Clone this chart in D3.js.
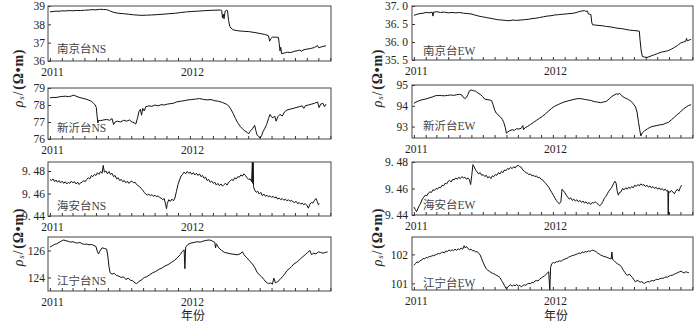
<!DOCTYPE html>
<html><head><meta charset="utf-8">
<script src="https://cdn.jsdelivr.net/npm/d3@7/dist/d3.min.js"></script>
<style>
body{margin:0;background:#fff}
svg{display:block}
</style>
</head><body>
<svg id="chart" width="700" height="322"></svg>
<script>
// Apparent resistivity, daily series: [days since 2011-01-01, value]
const nanjingNS = [[0,38.68],[8,38.70],[16,38.72],[24,38.71],[32,38.74],[40,38.73],[50,38.75],[60,38.74],[70,38.76],[80,38.75],[90,38.77],[100,38.78],[110,38.80],[120,38.79],[130,38.82],[140,38.81],[148,38.80],[155,38.75],[162,38.68],[170,38.64],[180,38.60],[192,38.58],[205,38.55],[218,38.52],[230,38.50],[240,38.49],[252,38.50],[265,38.51],[280,38.53],[295,38.55],[310,38.58],[325,38.60],[340,38.64],[356,38.68],[370,38.70],[385,38.72],[400,38.74],[415,38.76],[430,38.77],[445,38.78],[448,38.76],[450,38.35],[452,38.55],[454,38.30],[457,38.72],[460,38.76],[463,38.75],[466,38.20],[469,37.90],[472,37.80],[478,37.70],[490,37.65],[505,37.62],[520,37.60],[535,37.55],[548,37.50],[560,37.45],[570,37.38],[573,37.08],[576,37.22],[580,37.30],[590,37.30],[596,37.28],[598,36.95],[600,36.55],[602,36.75],[604,36.40],[608,36.42],[614,36.45],[620,36.48],[628,36.46],[636,36.52],[645,36.56],[652,36.60],[655,36.52],[660,36.60],[670,36.65],[680,36.68],[690,36.74],[698,36.84],[701,36.72],[704,36.74],[712,36.80],[720,36.83]];

const xinyiNS = [[0,78.42],[8,78.45],[16,78.44],[24,78.48],[32,78.50],[40,78.52],[48,78.49],[56,78.53],[62,78.58],[68,78.52],[76,78.45],[84,78.40],[92,78.36],[100,78.30],[108,78.22],[114,78.10],[118,78.00],[121,77.85],[123,77.35],[125,76.95],[127,77.10],[132,77.08],[140,77.12],[148,77.15],[156,77.10],[162,77.20],[166,76.85],[170,77.00],[176,77.05],[184,77.00],[192,77.10],[200,77.05],[208,77.12],[214,77.00],[220,76.95],[224,76.88],[228,77.20],[232,77.60],[236,77.75],[239,77.40],[242,77.80],[246,77.65],[250,77.90],[258,77.95],[266,77.92],[274,78.00],[282,77.95],[290,78.02],[298,78.00],[306,78.05],[314,78.08],[322,78.10],[330,78.18],[340,78.22],[350,78.25],[360,78.30],[370,78.32],[380,78.35],[390,78.38],[400,78.33],[410,78.30],[420,78.32],[430,78.25],[440,78.22],[450,78.15],[460,78.05],[466,77.95],[472,77.75],[478,77.50],[484,77.20],[490,76.95],[496,76.75],[502,76.60],[508,76.48],[514,76.40],[518,76.30],[522,76.45],[528,76.60],[534,76.80],[537,76.50],[540,76.25],[544,76.15],[548,76.05],[552,76.20],[556,76.45],[560,76.60],[565,76.85],[570,77.20],[574,77.45],[578,77.30],[582,77.25],[586,77.35],[590,77.05],[594,77.30],[600,77.45],[606,77.35],[612,77.60],[618,77.70],[626,77.75],[634,77.80],[642,77.85],[650,77.90],[658,77.95],[662,77.80],[666,77.95],[674,78.00],[682,78.05],[690,78.10],[698,78.18],[702,77.85],[706,78.05],[712,78.10],[716,77.90],[720,78.05]];

const haianNS = [[0,9.4725],[4,9.4715],[8,9.4730],[12,9.4705],[16,9.4720],[20,9.4700],[24,9.4715],[28,9.4695],[32,9.4710],[36,9.4690],[40,9.4705],[44,9.4685],[48,9.4700],[52,9.4690],[56,9.4710],[60,9.4695],[64,9.4705],[68,9.4685],[72,9.4700],[76,9.4680],[80,9.4695],[84,9.4700],[88,9.4715],[92,9.4705],[96,9.4725],[100,9.4740],[104,9.4730],[108,9.4760],[112,9.4750],[116,9.4770],[120,9.4760],[124,9.4785],[128,9.4770],[132,9.4795],[136,9.4780],[139,9.4850],[142,9.4790],[146,9.4800],[150,9.4775],[154,9.4795],[158,9.4770],[162,9.4780],[166,9.4750],[170,9.4760],[174,9.4730],[178,9.4740],[182,9.4715],[186,9.4725],[190,9.4705],[194,9.4715],[198,9.4695],[202,9.4710],[206,9.4690],[210,9.4705],[214,9.4710],[218,9.4695],[222,9.4700],[226,9.4680],[230,9.4670],[234,9.4660],[238,9.4645],[242,9.4630],[246,9.4610],[250,9.4595],[254,9.4585],[258,9.4595],[262,9.4580],[266,9.4590],[270,9.4575],[274,9.4585],[278,9.4570],[282,9.4580],[286,9.4565],[290,9.4560],[294,9.4545],[298,9.4555],[302,9.4500],[304,9.4465],[306,9.4510],[310,9.4545],[314,9.4530],[318,9.4550],[322,9.4535],[326,9.4560],[330,9.4620],[334,9.4680],[338,9.4720],[342,9.4755],[346,9.4770],[350,9.4790],[354,9.4775],[358,9.4795],[362,9.4780],[366,9.4790],[370,9.4770],[374,9.4785],[378,9.4765],[382,9.4780],[386,9.4760],[390,9.4775],[394,9.4750],[398,9.4760],[402,9.4735],[406,9.4745],[410,9.4715],[414,9.4725],[418,9.4700],[422,9.4710],[426,9.4690],[430,9.4700],[434,9.4675],[438,9.4690],[442,9.4670],[446,9.4685],[450,9.4665],[454,9.4680],[458,9.4690],[462,9.4675],[466,9.4700],[470,9.4710],[474,9.4725],[478,9.4715],[482,9.4740],[486,9.4730],[490,9.4750],[494,9.4745],[498,9.4765],[502,9.4755],[506,9.4775],[510,9.4760],[514,9.4740],[518,9.4725],[522,9.4730],[526,9.4705],[528,9.4900],[529,9.4690],[530,9.4900],[531,9.4660],[534,9.4630],[538,9.4610],[542,9.4620],[546,9.4595],[550,9.4610],[554,9.4580],[558,9.4595],[562,9.4575],[566,9.4585],[570,9.4570],[574,9.4580],[578,9.4565],[582,9.4575],[586,9.4560],[590,9.4570],[594,9.4550],[598,9.4560],[602,9.4545],[606,9.4555],[610,9.4540],[614,9.4550],[618,9.4535],[622,9.4545],[626,9.4530],[630,9.4540],[634,9.4525],[638,9.4520],[642,9.4530],[646,9.4510],[650,9.4520],[654,9.4505],[658,9.4515],[662,9.4500],[666,9.4510],[670,9.4495],[674,9.4470],[678,9.4505],[682,9.4520],[686,9.4515],[690,9.4540],[694,9.4555],[697,9.4530],[700,9.4500],[703,9.4510]];

const jiangningNS = [[0,126.25],[6,126.35],[12,126.45],[18,126.50],[24,126.60],[30,126.70],[36,126.78],[42,126.72],[48,126.68],[54,126.62],[60,126.65],[66,126.58],[72,126.55],[78,126.60],[84,126.50],[90,126.45],[96,126.48],[102,126.42],[108,126.45],[114,126.38],[120,126.30],[124,125.90],[127,125.75],[130,125.95],[136,126.20],[142,126.15],[148,126.10],[151,125.60],[154,124.80],[157,124.35],[162,124.25],[168,124.30],[174,124.15],[180,124.10],[186,124.00],[192,124.05],[198,123.85],[204,123.95],[210,123.80],[216,123.75],[222,123.60],[226,123.55],[232,123.70],[240,123.85],[246,124.00],[252,124.05],[260,124.20],[268,124.35],[276,124.45],[284,124.60],[292,124.70],[300,124.85],[308,124.95],[316,125.10],[324,125.25],[332,125.45],[340,125.70],[346,125.95],[350,126.05],[352,124.65],[354,126.25],[360,126.45],[368,126.55],[376,126.60],[384,126.65],[392,126.62],[400,126.70],[408,126.75],[416,126.78],[424,126.70],[430,126.60],[432,126.20],[434,126.50],[440,126.20],[448,126.00],[456,125.85],[464,125.80],[472,125.75],[480,125.72],[488,125.68],[496,125.75],[502,125.90],[506,125.70],[512,125.50],[520,125.25],[528,125.00],[534,124.75],[540,124.40],[546,124.20],[552,124.05],[558,123.85],[564,123.65],[570,123.55],[576,123.60],[580,123.50],[584,123.95],[588,123.60],[594,123.70],[600,123.85],[606,124.05],[612,124.25],[618,124.50],[624,124.65],[630,124.80],[636,125.00],[642,125.10],[648,125.25],[654,125.40],[660,125.55],[666,125.70],[672,125.85],[678,126.00],[682,125.70],[688,125.80],[694,125.75],[700,125.90],[706,125.85],[712,125.80],[718,125.85],[724,125.90]];

const nanjingEW = [[0,36.74],[8,36.77],[16,36.79],[24,36.80],[32,36.82],[40,36.81],[48,36.83],[50,36.72],[52,36.83],[60,36.84],[70,36.82],[80,36.83],[90,36.81],[100,36.82],[110,36.81],[120,36.82],[130,36.80],[140,36.79],[150,36.78],[160,36.75],[170,36.72],[180,36.70],[190,36.68],[200,36.66],[210,36.64],[220,36.62],[230,36.61],[240,36.60],[250,36.59],[260,36.61],[270,36.60],[280,36.61],[290,36.62],[300,36.63],[310,36.65],[320,36.66],[330,36.68],[340,36.70],[350,36.72],[360,36.73],[370,36.75],[380,36.76],[390,36.77],[400,36.78],[410,36.79],[420,36.80],[430,36.83],[440,36.86],[448,36.87],[452,36.85],[456,36.86],[458,36.78],[462,36.77],[465,36.76],[467,36.55],[469,36.48],[476,36.47],[486,36.46],[496,36.45],[506,36.43],[516,36.42],[526,36.40],[536,36.38],[546,36.37],[556,36.35],[566,36.33],[576,36.32],[586,36.31],[592,36.30],[594,36.05],[597,35.75],[600,35.60],[606,35.58],[612,35.57],[620,35.60],[630,35.64],[640,35.68],[650,35.72],[660,35.74],[668,35.76],[676,35.80],[684,35.85],[692,35.90],[700,35.97],[708,36.00],[714,36.02],[716,36.10],[718,36.03],[724,36.06],[728,36.07]];

const xinyiEW = [[0,94.12],[8,94.20],[16,94.26],[24,94.30],[32,94.33],[40,94.38],[48,94.42],[56,94.48],[64,94.50],[72,94.49],[80,94.48],[88,94.50],[96,94.52],[104,94.50],[112,94.53],[120,94.55],[126,94.52],[130,94.40],[134,94.35],[138,94.40],[142,94.55],[146,94.72],[150,94.76],[156,94.73],[162,94.70],[168,94.62],[174,94.55],[180,94.45],[186,94.32],[192,94.30],[198,94.28],[204,94.25],[208,94.05],[212,93.80],[216,93.65],[220,93.60],[224,93.50],[228,93.45],[232,93.35],[236,93.20],[240,92.95],[243,92.68],[247,92.75],[252,92.80],[258,92.85],[264,92.82],[270,92.90],[276,92.88],[282,92.92],[286,93.05],[288,92.85],[292,92.95],[298,93.00],[306,93.10],[314,93.20],[322,93.30],[330,93.40],[338,93.50],[346,93.62],[354,93.75],[362,93.88],[370,93.98],[378,94.05],[386,94.12],[394,94.18],[402,94.22],[410,94.26],[418,94.30],[426,94.33],[434,94.35],[442,94.33],[450,94.30],[458,94.28],[466,94.25],[474,94.20],[482,94.18],[490,94.15],[498,94.18],[506,94.22],[514,94.35],[520,94.45],[526,94.52],[532,94.58],[536,94.55],[540,94.60],[546,94.48],[552,94.40],[558,94.35],[564,94.30],[570,94.22],[576,94.10],[582,93.95],[586,93.70],[590,93.20],[593,92.85],[596,92.55],[600,92.70],[606,92.80],[614,92.90],[622,92.98],[630,93.02],[638,93.05],[646,93.08],[654,93.10],[660,93.15],[668,93.20],[676,93.32],[684,93.45],[692,93.58],[700,93.70],[708,93.85],[716,93.95],[722,94.02],[728,94.05]];

const haianEW = [[0,9.4460],[4,9.4440],[7,9.4425],[10,9.4445],[14,9.4470],[18,9.4490],[22,9.4520],[26,9.4535],[30,9.4550],[34,9.4545],[38,9.4565],[42,9.4575],[46,9.4570],[50,9.4590],[54,9.4585],[58,9.4600],[62,9.4595],[66,9.4610],[70,9.4605],[74,9.4625],[78,9.4620],[82,9.4640],[86,9.4635],[90,9.4655],[94,9.4660],[98,9.4650],[102,9.4670],[106,9.4665],[110,9.4680],[114,9.4670],[118,9.4685],[122,9.4675],[126,9.4690],[130,9.4680],[134,9.4685],[138,9.4670],[142,9.4680],[146,9.4665],[149,9.4630],[152,9.4700],[155,9.4780],[158,9.4765],[162,9.4740],[166,9.4725],[170,9.4710],[174,9.4720],[178,9.4700],[182,9.4705],[186,9.4690],[190,9.4700],[194,9.4680],[198,9.4690],[202,9.4675],[206,9.4695],[210,9.4690],[214,9.4705],[218,9.4700],[222,9.4720],[226,9.4710],[230,9.4730],[234,9.4720],[238,9.4740],[242,9.4735],[246,9.4750],[250,9.4745],[254,9.4760],[258,9.4750],[262,9.4765],[266,9.4755],[270,9.4770],[274,9.4775],[278,9.4765],[282,9.4760],[286,9.4740],[290,9.4730],[294,9.4720],[298,9.4715],[302,9.4705],[306,9.4710],[310,9.4695],[314,9.4700],[318,9.4690],[322,9.4695],[326,9.4680],[330,9.4685],[334,9.4670],[338,9.4665],[342,9.4650],[346,9.4640],[350,9.4625],[354,9.4610],[358,9.4590],[362,9.4570],[366,9.4550],[370,9.4530],[374,9.4510],[378,9.4495],[382,9.4485],[386,9.4500],[389,9.4595],[392,9.4585],[396,9.4570],[400,9.4550],[404,9.4535],[408,9.4520],[412,9.4530],[416,9.4510],[420,9.4520],[424,9.4505],[428,9.4515],[432,9.4500],[436,9.4510],[440,9.4495],[444,9.4505],[448,9.4490],[452,9.4500],[456,9.4485],[460,9.4495],[464,9.4480],[468,9.4495],[472,9.4490],[476,9.4500],[480,9.4490],[484,9.4480],[488,9.4470],[492,9.4480],[496,9.4500],[500,9.4525],[504,9.4540],[508,9.4560],[512,9.4580],[516,9.4595],[520,9.4610],[524,9.4635],[528,9.4655],[531,9.4640],[534,9.4580],[537,9.4550],[540,9.4570],[544,9.4575],[548,9.4600],[552,9.4590],[556,9.4605],[560,9.4595],[564,9.4610],[568,9.4600],[572,9.4615],[576,9.4605],[580,9.4625],[584,9.4615],[588,9.4630],[592,9.4620],[596,9.4635],[600,9.4625],[604,9.4630],[608,9.4615],[612,9.4625],[616,9.4610],[620,9.4620],[624,9.4605],[628,9.4615],[632,9.4600],[636,9.4610],[640,9.4595],[644,9.4605],[648,9.4590],[652,9.4600],[656,9.4585],[660,9.4595],[664,9.4580],[667,9.4585],[668,9.4380],[669,9.4580],[672,9.4570],[676,9.4585],[680,9.4575],[684,9.4560],[688,9.4580],[692,9.4595],[696,9.4580],[700,9.4610],[703,9.4625]];

const jiangningEW = [[0,101.62],[4,101.68],[8,101.74],[12,101.72],[16,101.78],[20,101.80],[24,101.86],[28,101.84],[32,101.90],[36,101.88],[40,101.93],[44,101.92],[48,101.96],[52,101.95],[56,101.98],[60,102.00],[64,102.03],[68,102.02],[72,102.06],[76,102.08],[80,102.05],[84,102.12],[88,102.10],[92,102.15],[96,102.12],[100,102.16],[104,102.13],[108,102.18],[112,102.14],[116,102.19],[120,102.16],[124,102.22],[128,102.18],[132,102.30],[135,102.22],[138,102.27],[142,102.20],[146,102.16],[150,102.18],[154,102.12],[158,102.14],[162,102.08],[166,102.10],[170,102.04],[174,101.98],[178,101.85],[182,101.72],[186,101.60],[190,101.50],[194,101.45],[198,101.42],[202,101.38],[206,101.35],[210,101.33],[214,101.30],[218,101.27],[222,101.24],[226,101.20],[230,101.10],[234,101.02],[238,100.92],[242,100.82],[246,100.86],[250,100.92],[254,100.95],[258,100.90],[262,100.94],[266,100.92],[270,100.96],[274,100.90],[278,100.93],[282,100.88],[286,100.92],[290,100.95],[294,100.93],[298,100.98],[302,101.00],[306,100.98],[310,101.04],[314,101.02],[318,101.08],[322,101.10],[326,101.08],[330,101.14],[334,101.18],[338,101.22],[342,101.24],[346,101.30],[350,101.35],[354,101.40],[357,100.75],[359,101.55],[362,101.68],[366,101.72],[370,101.70],[374,101.75],[378,101.74],[382,101.78],[386,101.76],[390,101.80],[394,101.82],[398,101.85],[402,101.86],[406,101.90],[410,101.92],[414,101.95],[418,101.96],[422,101.98],[426,102.00],[430,102.02],[434,102.05],[438,102.03],[442,102.08],[446,102.06],[450,102.10],[454,102.08],[458,102.12],[462,102.10],[466,102.13],[470,102.15],[474,102.12],[478,102.10],[482,102.05],[486,102.02],[490,101.98],[494,101.96],[498,101.93],[502,101.92],[506,101.90],[510,101.88],[514,101.86],[518,101.84],[520,102.08],[522,101.82],[526,101.78],[530,101.72],[534,101.68],[538,101.65],[542,101.62],[546,101.55],[550,101.45],[554,101.38],[558,101.30],[562,101.28],[566,101.32],[570,101.25],[574,101.20],[578,101.12],[582,101.05],[586,101.10],[590,101.08],[594,101.04],[598,101.06],[602,101.02],[606,101.00],[610,101.04],[614,101.06],[618,101.05],[622,101.08],[626,101.10],[630,101.08],[634,101.12],[638,101.14],[642,101.13],[646,101.16],[650,101.18],[654,101.17],[658,101.20],[662,101.22],[666,101.21],[670,101.25],[674,101.27],[678,101.28],[682,101.30],[686,101.33],[690,101.35],[694,101.38],[698,101.40],[702,101.42],[706,101.38],[710,101.36],[714,101.40],[718,101.38],[722,101.37]];

const stations = ["南京台", "新沂台", "海安台", "江宁台"];
const nsSeries = [nanjingNS, xinyiNS, haianNS, jiangningNS];
const ewSeries = [nanjingEW, xinyiEW, haianEW, jiangningEW];
const nsDomains = [[36, 39], [76, 79], [9.44, 9.488], [123, 127]];
const ewDomains = [[35.5, 37.0], [92.45, 95], [9.44, 9.48], [100.77, 102.6]];
const nsTicks = [[36, 37, 38, 39], [76, 77, 78, 79], [9.44, 9.46, 9.48], [124, 126]];
const ewTicks = [[35.5, 36.0, 36.5, 37.0], [93, 94, 95], [9.44, 9.46, 9.48], [101, 102]];
const nsDecimals = [0, 0, 2, 0];
const ewDecimals = [1, 0, 2, 0];
const yearTicks = ["2011-01-01", "2012-01-01"];
const timeExtent = ["2010-12-27", "2013-01-03"];
const xTitle = "年份";

const FONT = '"Liberation Serif", "Times New Roman", "Noto Sans CJK SC", serif';
const parse = d3.utcParse("%Y-%m-%d");
const origin = parse("2011-01-01");
const toDate = d => d3.utcDay.offset(origin, d);

const svg = d3.select("#chart").style("font-family", FONT);
svg.append("rect").attr("width", 700).attr("height", 322).attr("fill", "#fff");

const columns = [
  {comp: "NS", series: nsSeries, domains: nsDomains, ticks: nsTicks, dec: nsDecimals,
   x0: 48, x1: 331, rows: [[6, 61], [88, 139], [162, 216], [237, 291]],
   labelX: 9, labelDy: [-8, -7, -6, -6], pad: 3, titleX: 18, titleX2: 193},
  {comp: "EW", series: ewSeries, domains: ewDomains, ticks: ewTicks, dec: ewDecimals,
   x0: 412, x1: 693, rows: [[6, 60], [85, 138], [162, 215], [237, 290]],
   labelX: 11, labelDy: [-5, -8, -6, -3], pad: 4, titleX: 377, titleX2: 556}
];

const defs = svg.append("defs");

const styleAxisText = a => a.attr("font-family", FONT).attr("font-size", 11.5)
  .selectAll("text").attr("fill", "#222");

columns.forEach((col, ci) => {
  const x = d3.scaleUtc().domain(timeExtent.map(parse)).range([col.x0, col.x1]);
  col.series.forEach((data, ri) => {
    const [top, bottom] = col.rows[ri];
    const y = d3.scaleLinear().domain(col.domains[ri]).range([bottom, top]);
    const g = svg.append("g");
    const clipId = `clip-${ci}-${ri}`;
    defs.append("clipPath").attr("id", clipId).append("rect")
      .attr("x", col.x0).attr("y", top).attr("width", col.x1 - col.x0).attr("height", bottom - top);

    // monthly minor ticks, pointing inward
    const minor = d3.axisBottom(x).ticks(d3.utcMonth.every(1)).tickSizeInner(-3).tickSizeOuter(0).tickFormat("");
    g.append("g").attr("transform", `translate(0,${bottom})`).call(minor)
      .call(a => a.select(".domain").remove())
      .call(a => a.selectAll("line").attr("stroke", "#333"));

    // year labels
    const years = d3.axisBottom(x).tickValues(yearTicks.map(parse)).tickSize(0).tickPadding(7)
      .tickFormat(d3.utcFormat("%Y"));
    g.append("g").attr("transform", `translate(2,${bottom})`).call(years)
      .call(a => a.select(".domain").remove())
      .call(styleAxisText);

    // value axis
    const fmt = v => d3.format(`.${col.dec[ri]}f`)(v).replace(".", ". ");
    const yAxis = d3.axisLeft(y).tickValues(col.ticks[ri]).tickSizeInner(-3).tickSizeOuter(0)
      .tickPadding(col.pad).tickFormat(fmt);
    g.append("g").attr("transform", `translate(${col.x0},0)`).call(yAxis)
      .call(a => a.select(".domain").remove())
      .call(a => a.selectAll("line").attr("stroke", "#333"))
      .call(styleAxisText);

    // series line
    const line = d3.line().x(d => x(toDate(d[0]))).y(d => y(d[1]));
    g.append("path").datum(data).attr("clip-path", `url(#${clipId})`)
      .attr("d", line).attr("fill", "none").attr("stroke", "#111")
      .attr("stroke-width", 1).attr("stroke-linejoin", "round");

    // frame
    g.append("rect").attr("x", col.x0).attr("y", top)
      .attr("width", col.x1 - col.x0).attr("height", bottom - top)
      .attr("fill", "none").attr("stroke", "#444").attr("stroke-width", 1);

    // station label
    g.append("text").attr("x", col.x0 + col.labelX).attr("y", bottom + col.labelDy[ri])
      .attr("font-size", 11.5).attr("fill", "#444")
      .text(stations[ri] + col.comp);
  });

  // value-axis titles
  [78, 237].forEach(cy => {
    const t = svg.append("text")
      .attr("transform", `translate(${col.titleX},${cy}) rotate(-90)`)
      .attr("text-anchor", "middle").attr("dominant-baseline", "central")
      .attr("font-size", 14).attr("letter-spacing", 0.8).attr("fill", "#222");
    t.append("tspan").attr("font-style", "italic").text("ρ");
    t.append("tspan").attr("font-style", "italic").attr("font-size", 9).attr("dy", 3).text("s");
    t.append("tspan").attr("dy", -3).text("/");
    t.append("tspan").attr("font-weight", "bold").attr("dx", 1).text("(Ω•m)");
  });

  // time-axis title
  svg.append("text").attr("x", col.titleX2).attr("y", 320)
    .attr("text-anchor", "middle").attr("font-size", 12).attr("fill", "#222")
    .text(xTitle);
});
</script>
</body></html>
